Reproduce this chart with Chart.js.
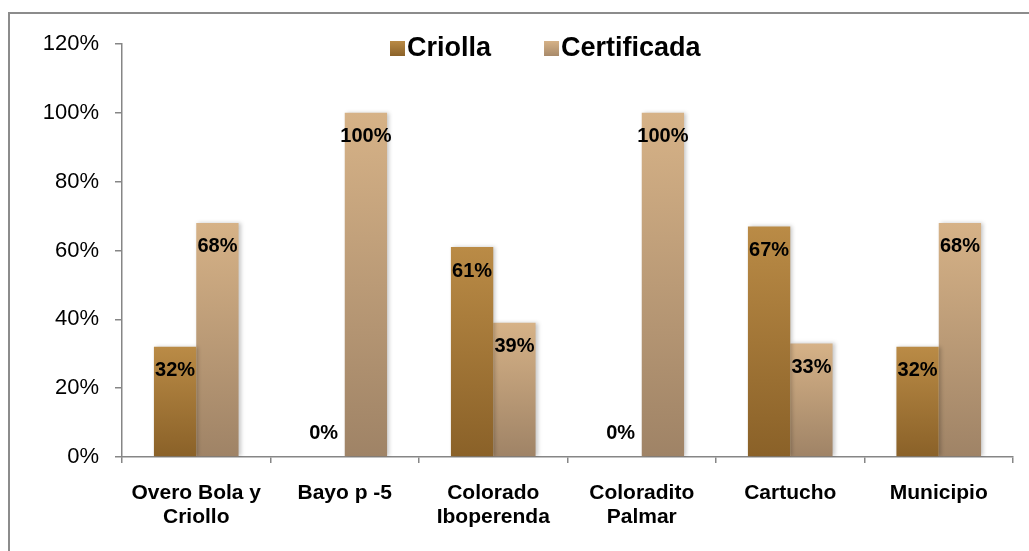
<!DOCTYPE html>
<html>
<head>
<meta charset="utf-8">
<script src="https://cdn.jsdelivr.net/npm/chart.js@4"></script>
<style>
  html, body { margin: 0; padding: 0; background: #fff; overflow: hidden; }
  #wrap { position: relative; width: 1029px; height: 551px; }
  #frame { position: absolute; left: 8px; top: 12px; width: 1100px; height: 600px; border: 2px solid #8c8c8c; }
  #chart { position: absolute; left: 0; top: 0; }
</style>
</head>
<body>
<div id="wrap">
  <div id="frame"></div>
  <canvas id="chart" width="1029" height="551"></canvas>
</div>
<script>
const categories = [
    ['Overo Bola y', 'Criollo'],
    'Bayo p -5',
    ['Colorado', 'Iboperenda'],
    ['Coloradito', 'Palmar'],
    'Cartucho',
    'Municipio'
];
const criolla = [32, 0, 61, 0, 67, 32];
const certificada = [68, 100, 39, 100, 33, 68];
const yTicks = [0, 20, 40, 60, 80, 100, 120];

const FONT = '"Liberation Sans", Arial, sans-serif';

// vertical gradient per bar, lighter at the top
function barGradient(topColor, bottomColor) {
    return (ctx) => {
        const chart = ctx.chart;
        const y = chart.scales && chart.scales.y;
        if (!chart.chartArea || !y || ctx.type !== 'data') return bottomColor;
        const top = y.getPixelForValue(ctx.parsed.y);
        const base = y.getPixelForValue(0);
        const g = chart.ctx.createLinearGradient(0, top, 0, Math.max(base, top + 1));
        g.addColorStop(0, topColor);
        g.addColorStop(1, bottomColor);
        return g;
    };
}

// soft shadow behind the bars
const barShadow = {
    id: 'barShadow',
    beforeDatasetsDraw(chart) {
        const c = chart.ctx;
        c.save();
        c.shadowColor = 'rgba(0,0,0,0.22)';
        c.shadowBlur = 4;
        c.shadowOffsetX = 2;
        c.shadowOffsetY = 0;
    },
    afterDatasetsDraw(chart) {
        chart.ctx.restore();
    }
};

// value labels, inside end of each bar
const valueLabels = {
    id: 'valueLabels',
    afterDatasetsDraw(chart) {
        const c = chart.ctx;
        c.save();
        c.font = 'bold 20px ' + FONT;
        c.fillStyle = '#000';
        c.textAlign = 'center';
        c.textBaseline = 'middle';
        chart.data.datasets.forEach((ds, i) => {
            chart.getDatasetMeta(i).data.forEach((bar, j) => {
                const v = ds.data[j];
                const y = v === 0 ? bar.y - 24 : bar.y + 24;
                c.fillText(v + '%', bar.x, y);
            });
        });
        c.restore();
    }
};

// legend overlaid on top of the plot area, like the original
const overlayLegend = {
    id: 'overlayLegend',
    afterDraw(chart) {
        const c = chart.ctx;
        const swatches = [['#b98a45', '#8b6229'], ['#d6b287', '#a88a6a']];
        c.save();
        c.font = 'bold 27px ' + FONT;
        c.textBaseline = 'middle';
        let x = 390;
        const y = 48;
        chart.data.datasets.forEach((ds, i) => {
            const g = c.createLinearGradient(0, y - 7, 0, y + 8);
            g.addColorStop(0, swatches[i][0]);
            g.addColorStop(1, swatches[i][1]);
            c.fillStyle = g;
            c.fillRect(x, y - 7, 15, 15);
            c.fillStyle = '#000';
            c.fillText(ds.label, x + 17, y + 1);
            x += 17 + c.measureText(ds.label).width + 53;
        });
        c.restore();
    }
};

new Chart(document.getElementById('chart'), {
    type: 'bar',
    data: {
        labels: categories,
        datasets: [
            {
                label: 'Criolla',
                data: criolla,
                backgroundColor: barGradient('#ba8b46', '#8a6128'),
                borderWidth: 0
            },
            {
                label: 'Certificada',
                data: certificada,
                backgroundColor: barGradient('#d6b287', '#9f8366'),
                borderWidth: 0
            }
        ]
    },
    options: {
        responsive: false,
        animation: false,
        devicePixelRatio: 1,
        layout: { padding: { left: 0, right: 16, top: 44, bottom: 0 } },
        datasets: { bar: { categoryPercentage: 0.57, barPercentage: 1 } },
        plugins: {
            legend: { display: false },
            tooltip: { enabled: false }
        },
        scales: {
            x: {
                grid: { offset: true, drawOnChartArea: false, tickLength: 6, color: '#868686', lineWidth: 1.5 },
                border: { color: '#868686', width: 1.5 },
                ticks: {
                    color: '#000',
                    padding: 18,
                    maxRotation: 0,
                    autoSkip: false,
                    font: { family: FONT, size: 21, weight: 'bold', lineHeight: 1.15 }
                },
                afterFit(scale) { scale.height = 94; }
            },
            y: {
                min: 0,
                max: 120,
                afterBuildTicks(scale) { scale.ticks = yTicks.map(v => ({ value: v })); },
                grid: { drawOnChartArea: false, tickLength: 7, color: '#868686', lineWidth: 1.5 },
                border: { color: '#868686', width: 1.5 },
                ticks: {
                    color: '#000',
                    padding: 16,
                    font: { family: FONT, size: 22 },
                    callback: v => v + '%'
                },
                afterFit(scale) { scale.width = 122; }
            }
        }
    },
    plugins: [barShadow, valueLabels, overlayLegend]
});
</script>
</body>
</html>
